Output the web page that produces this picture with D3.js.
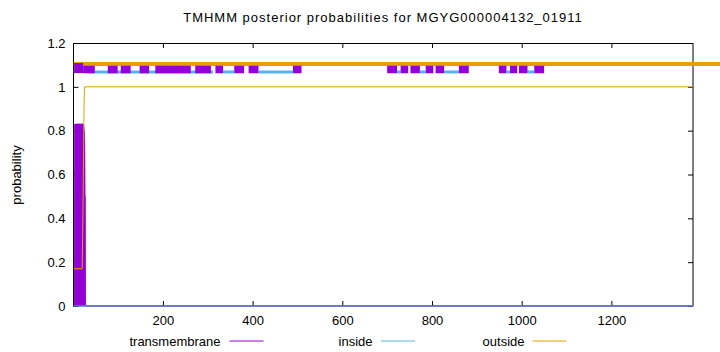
<!DOCTYPE html>
<html lang="en">
  <head>
    <meta charset="utf-8" />
    <style type="text/css">
      body {
        margin: 0;
        background: #fff;
      }
      svg text {
        font-family: "Liberation Sans", Arial, sans-serif;
        font-size: 13px;
        fill: #000;
      }
    </style>
  </head>
  <body>
    <svg width="720" height="352"></svg>

    <script src="https://d3js.org/d3.v7.min.js"></script>
    <script type="text/javascript">
      // ---- data (residue positions / probabilities) ----
      var seqLength = 1382;
      var xTicks = [200, 400, 600, 800, 1000, 1200];
      var yTicks = [0, 0.2, 0.4, 0.6, 0.8, 1, 1.2];

      // predicted topology bars along the top
      var outsideTop = [[1, 1442]];
      var signalTop = [[2, 22]];
      var tmTop = [
        [22, 48], [77, 99], [106, 128], [148, 169], [183, 238], [238, 262],
        [272, 307], [317, 334], [359, 381], [391, 413], [490, 509],
        [700, 722], [730, 747], [752, 773], [786, 803], [808, 827], [860, 882],
        [949, 966], [974, 990], [994, 1013], [1028, 1050]
      ];
      var insideTop = [
        [1, 5], [34, 312], [334, 359], [413, 490],
        [722, 730], [773, 786], [827, 860], [966, 974], [1013, 1028]
      ];

      // posterior curves
      var tmProb = [
        [1, 0], [2, 0], [3, 0], [4, 0.83], [5, 0.83], [6, 0.83], [7, 0.83],
        [8, 0.83], [9, 0.83], [10, 0.83], [11, 0.83], [12, 0.83], [13, 0.83],
        [14, 0.83], [15, 0.83], [16, 0.83], [17, 0.83], [18, 0.83], [19, 0.83],
        [20, 0.83], [21, 0.83], [22, 0.83], [23, 0.82], [24, 0.8], [25, 0.75],
        [26, 0.5], [27, 0], [1382, 0]
      ];
      var insideProb = [[1, 0], [1382, 0]];
      var outsideProb = [
        [1, 0.17], [20, 0.17], [22, 0.5], [24, 0.9], [25, 1], [1382, 1]
      ];

      var colTM = "#9400d3",
        colIn = "#56b4e9",
        colOut = "#e69f00";

      var svg = d3.select("svg");

      var x = d3.scaleLinear().domain([1, seqLength]).range([73.7, 693]);
      var y = d3.scaleLinear().domain([0, 1.2]).range([306, 43]);

      // title
      svg
        .append("text")
        .attr("x", 383)
        .attr("y", 22)
        .attr("text-anchor", "middle")
        .style("letter-spacing", "1px")
        .text("TMHMM posterior probabilities for MGYG000004132_01911");

      // y label
      svg
        .append("text")
        .attr("transform", "translate(21,175) rotate(-90)")
        .attr("text-anchor", "middle")
        .text("probability");

      // axes (inward ticks, mirrored)
      var fmt = d3.format("~g");
      var gx = svg
        .append("g")
        .attr("transform", "translate(0,306)")
        .call(d3.axisBottom(x).tickValues(xTicks).tickSizeInner(-5).tickSizeOuter(0).tickPadding(10).tickFormat(fmt));
      var gxTop = svg
        .append("g")
        .attr("transform", "translate(0,43)")
        .call(d3.axisTop(x).tickValues(xTicks).tickSizeInner(-5).tickSizeOuter(0).tickFormat(""));
      var gy = svg
        .append("g")
        .attr("transform", "translate(73.5,0)")
        .call(d3.axisLeft(y).tickValues(yTicks).tickSizeInner(-5).tickSizeOuter(0).tickPadding(8).tickFormat(fmt));
      var gyR = svg
        .append("g")
        .attr("transform", "translate(693,0)")
        .call(d3.axisRight(y).tickValues(yTicks).tickSizeInner(-5).tickSizeOuter(0).tickFormat(""));

      [gx, gxTop, gy, gyR].forEach(function (g) {
        g.select(".domain").remove();
        g.selectAll("text").style("font-family", "Liberation Sans, Arial, sans-serif").style("font-size", "13px").attr("fill", "#000");
        g.selectAll("line").attr("stroke", "#000");
      });

      // frame
      svg
        .append("rect")
        .attr("x", 73.5)
        .attr("y", 43.5)
        .attr("width", 693 - 73.5)
        .attr("height", 306 - 43.5)
        .attr("fill", "none")
        .attr("stroke", "#000")
        .attr("stroke-width", 1);

      var line = d3
        .line()
        .x(function (d) {
          return x(d[0]);
        })
        .y(function (d) {
          return y(d[1]);
        });

      // TM posterior as impulses plus thin line
      svg
        .append("g")
        .selectAll("line")
        .data(tmProb.filter(function (d) {
          return d[1] > 0;
        }))
        .enter()
        .append("line")
        .attr("x1", function (d) {
          return x(d[0]);
        })
        .attr("x2", function (d) {
          return x(d[0]);
        })
        .attr("y1", y(0))
        .attr("y2", function (d) {
          return y(d[1]);
        })
        .attr("stroke", colTM)
        .attr("stroke-width", 1.4);

      svg.append("path").datum(tmProb).attr("d", line).attr("fill", "none").attr("stroke", colTM).attr("stroke-width", 1);
      svg.append("path").datum(outsideProb).attr("d", line).attr("fill", "none").attr("stroke", colOut).attr("stroke-width", 1);
      svg.append("path").datum(insideProb).attr("d", line).attr("fill", "none").attr("stroke", colIn).attr("stroke-width", 1.2);

      // topology bars
      function bars(data, val, color, width) {
        svg
          .append("g")
          .selectAll("line")
          .data(data)
          .enter()
          .append("line")
          .attr("x1", function (d) {
            return x(d[0]);
          })
          .attr("x2", function (d) {
            return x(d[1]);
          })
          .attr("y1", y(val))
          .attr("y2", y(val))
          .attr("stroke", color)
          .attr("stroke-width", width);
      }
      bars(insideTop, 1.068, colIn, 3);
      bars(outsideTop, 1.104, colOut, 4);
      bars(tmTop, 1.079, colTM, 7.5);
      bars(signalTop, 1.086, colTM, 10);

      // legend
      var legend = [
        { name: "transmembrane", color: colTM, tx: 220.5, lx: 229.5 },
        { name: "inside", color: colIn, tx: 372.5, lx: 381 },
        { name: "outside", color: colOut, tx: 524.5, lx: 532.5 }
      ];
      var lg = svg
        .append("g")
        .selectAll("g")
        .data(legend)
        .enter()
        .append("g");
      lg.append("text")
        .attr("x", function (d) {
          return d.tx;
        })
        .attr("y", 346)
        .attr("text-anchor", "end")
        .text(function (d) {
          return d.name;
        });
      lg.append("line")
        .attr("x1", function (d) {
          return d.lx;
        })
        .attr("x2", function (d) {
          return d.lx + 34;
        })
        .attr("y1", 341)
        .attr("y2", 341)
        .attr("stroke", function (d) {
          return d.color;
        })
        .attr("stroke-width", 1);
    </script>
  </body>
</html>
